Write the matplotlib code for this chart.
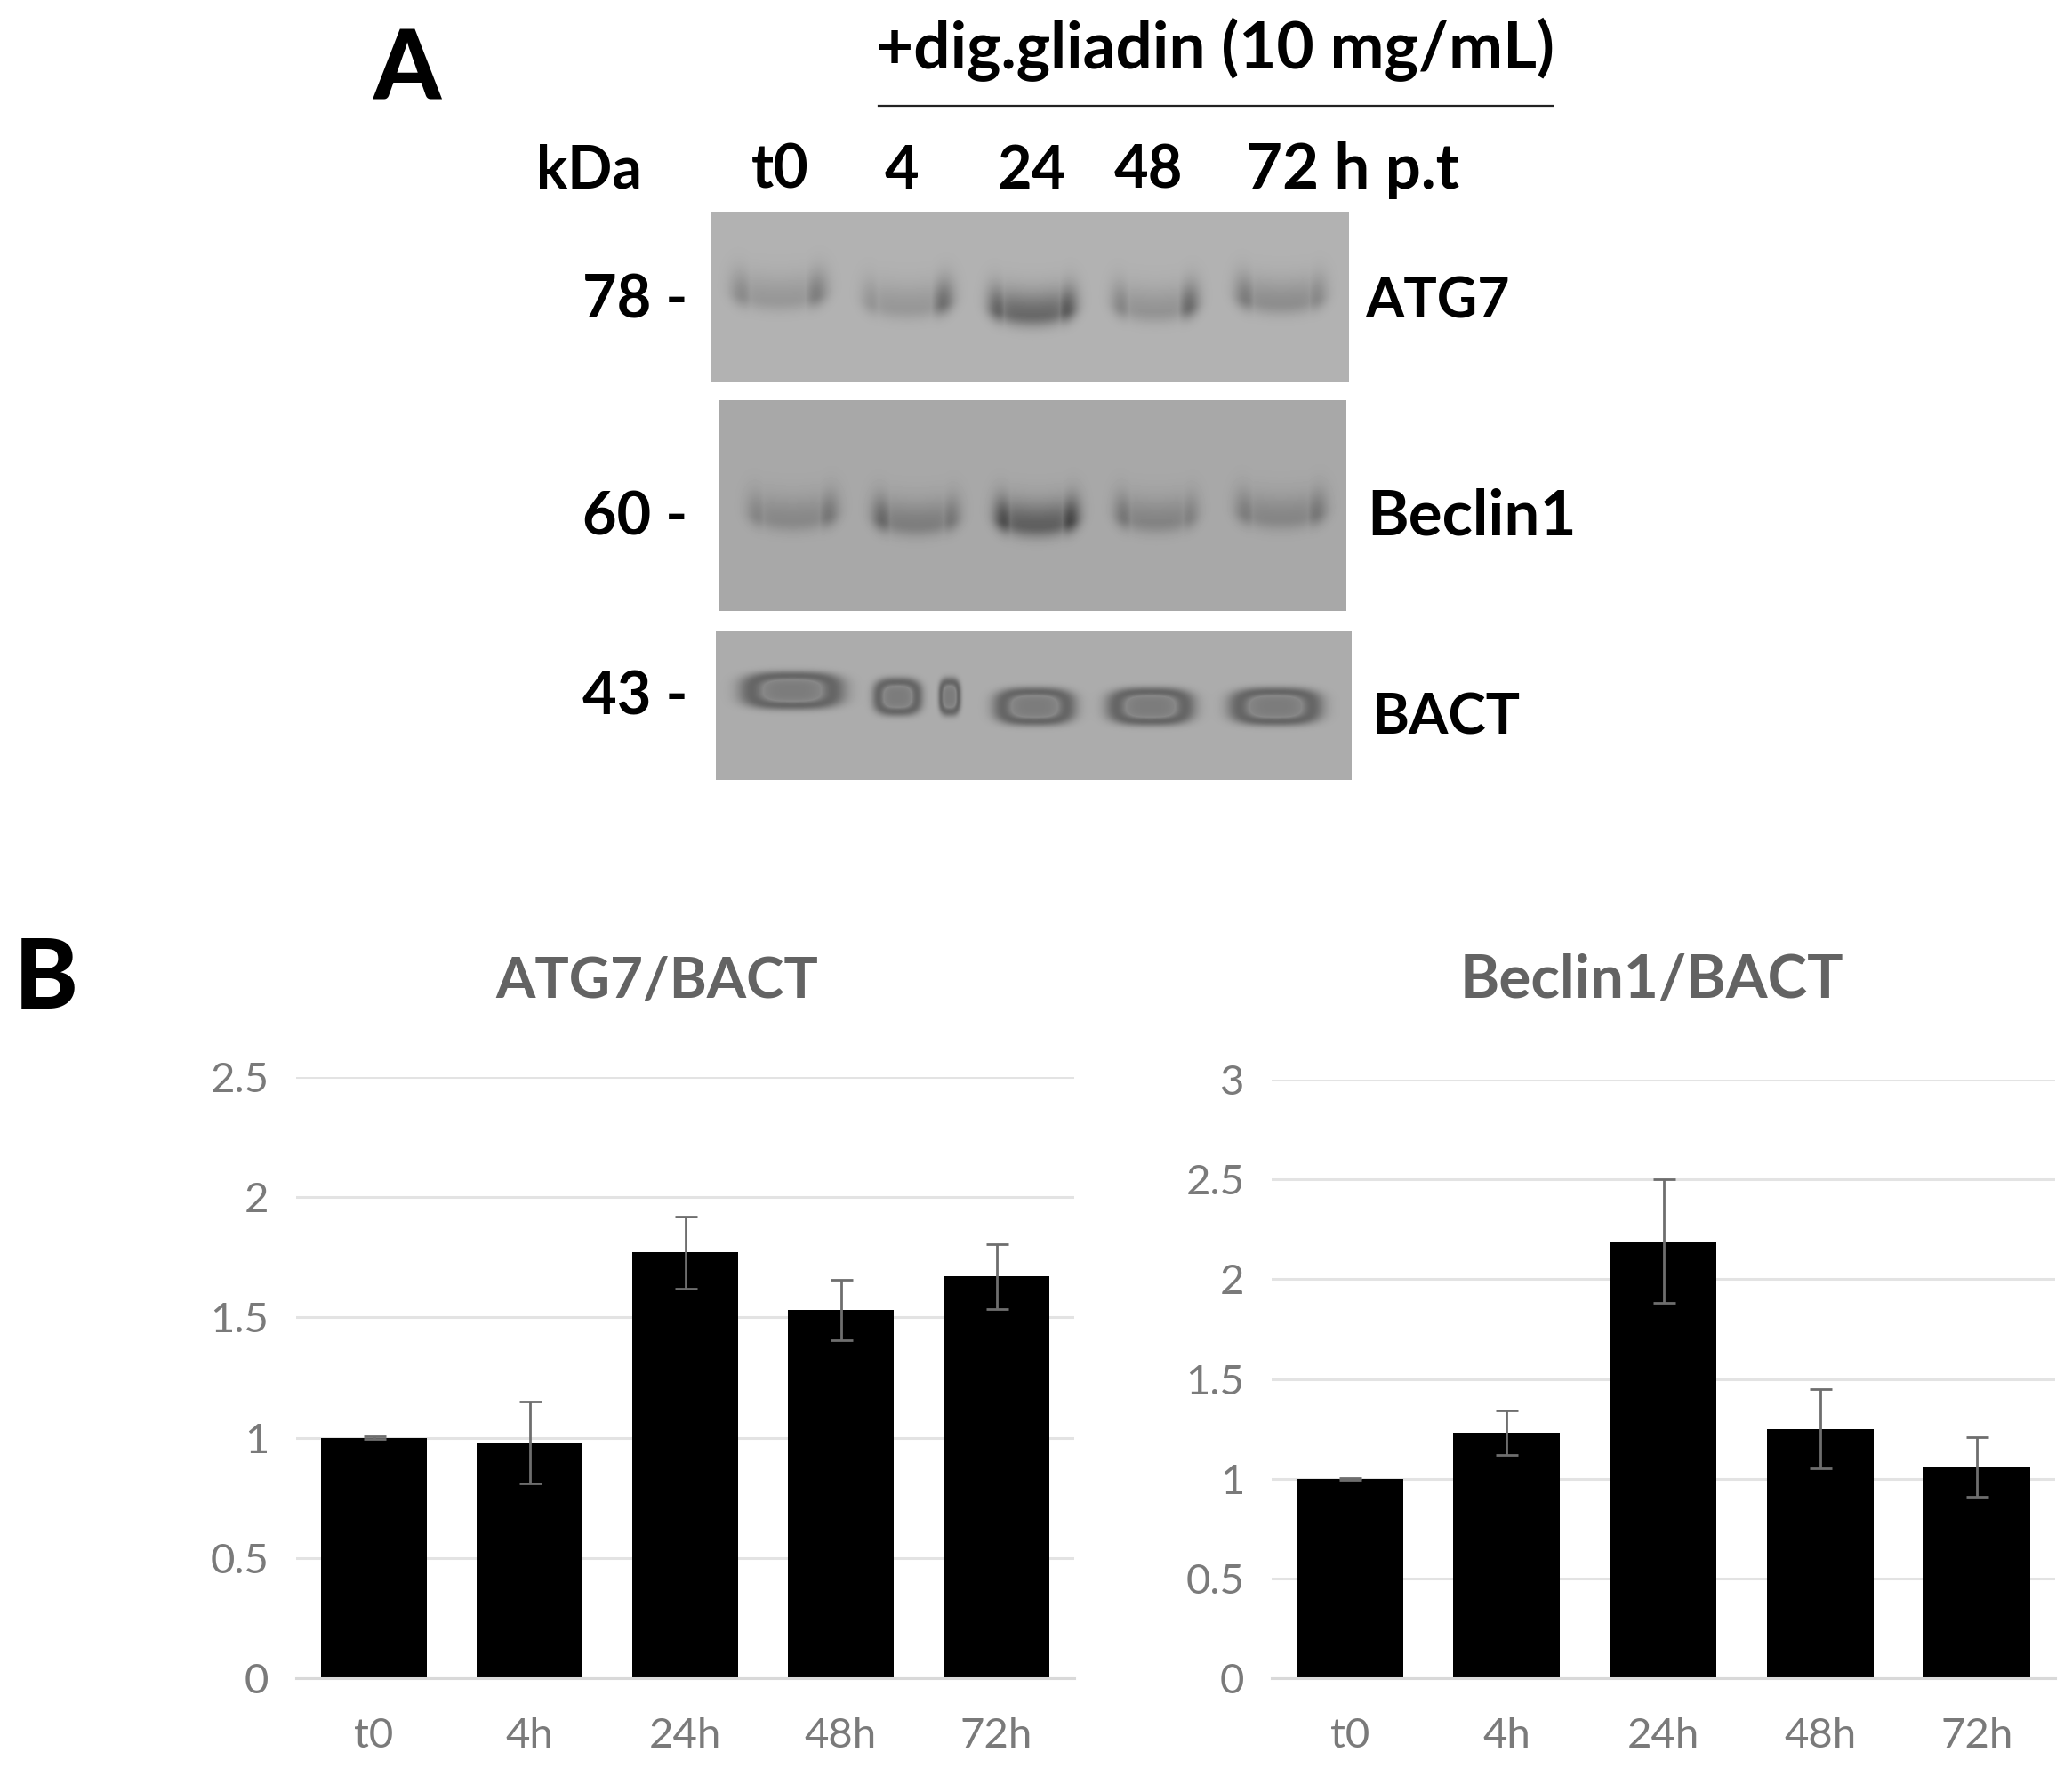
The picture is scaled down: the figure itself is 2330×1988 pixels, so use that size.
#! /usr/bin/env python

import numpy as np
import matplotlib
matplotlib.use("Agg")
import matplotlib.pyplot as plt

W, H = 2330, 1988

categories = ["t0", "4h", "24h", "48h", "72h"]
atg7_vals = [1.0, 0.98, 1.77, 1.53, 1.67]
atg7_err = [0.005, 0.17, 0.15, 0.125, 0.135]
beclin_vals = [1.0, 1.23, 2.19, 1.25, 1.06]
beclin_err = [0.005, 0.11, 0.31, 0.2, 0.15]
atg7_ticks = [0, 0.5, 1, 1.5, 2, 2.5]
beclin_ticks = [0, 0.5, 1, 1.5, 2, 2.5, 3]
tick_fmt = ["0", "0.5", "1", "1.5", "2", "2.5", "3"]

# blot bands, full size pixels: x0, x1, y, left / middle / right darkness
atg7_bands = [(822, 929, 333, 38, 26, 50), (969, 1071, 342, 28, 26, 65),
              (1111, 1210, 350, 75, 72, 85), (1250, 1347, 346, 42, 30, 68),
              (1389, 1491, 337, 52, 36, 40)]
beclin_bands = [(840, 942, 581, 34, 32, 48), (981, 1079, 586, 62, 42, 48),
                (1118, 1213, 587, 88, 72, 95), (1253, 1347, 583, 48, 36, 38),
                (1389, 1491, 579, 42, 34, 48)]
bact_bands = [(827, 954, 776), (979, 1039, 783), (1054, 1081, 783),
              (1113, 1213, 794), (1240, 1347, 794), (1377, 1491, 794)]


def smile_panel(x0, x1, y0, y1, base, bands):
    xx, yy = np.meshgrid(np.arange(x0, x1), np.arange(y0, y1))
    img = np.full(xx.shape, float(base))
    for bx0, bx1, by, dl, dm, dr in bands:
        xc = (bx0 + bx1) / 2
        w = (bx1 - bx0) / 2
        u = (xx - xc) / w
        curve = by - 9 * (u ** 2) + 4
        sigma = np.where(yy < curve, 27.0, 13.0)
        env = np.exp(-((yy - curve) / sigma) ** 2)
        left = dl * np.exp(-((u + 0.78) / 0.26) ** 2)
        right = dr * np.exp(-((u - 0.78) / 0.26) ** 2)
        mid = dm * np.exp(-(u / 0.8) ** 6)
        img -= env * np.maximum(np.maximum(left, right), mid)
    return img


def ring_panel(x0, x1, y0, y1, base, bands):
    xx, yy = np.meshgrid(np.arange(x0, x1), np.arange(y0, y1))
    img = np.full(xx.shape, float(base))
    for bx0, bx1, by in bands:
        a = (bx1 - bx0) / 2
        r = (np.abs((xx - (bx0 + bx1) / 2) / a) ** 3 + np.abs((yy - by) / 23.0) ** 3) ** (1 / 3)
        ring = 70 * np.exp(-((r - 0.72) / 0.26) ** 2)
        core = 48 * np.exp(-(r / 0.72) ** 4)
        img -= np.maximum(ring, core)
    return img


plt.rcParams['font.family'] = ['Lato', 'DejaVu Sans']

fig = plt.figure(figsize=(W / 100, H / 100), dpi=100)
over = fig.add_axes([0, 0, 1, 1])

panels = [
    (smile_panel(799, 1517, 238, 429, 178, atg7_bands), (799, 1517, 429, 238)),
    (smile_panel(808, 1514, 450, 687, 168, beclin_bands), (808, 1514, 687, 450)),
    (ring_panel(805, 1520, 709, 877, 172, bact_bands), (805, 1520, 877, 709)),
]
for img, ext in panels:
    over.imshow(img, cmap="gray", vmin=0, vmax=255, extent=ext, aspect="auto",
                interpolation="bilinear")
over.set_xlim(0, W)
over.set_ylim(H, 0)
over.axis("off")

over.plot([988, 1746], [119, 119], color="#222222", lw=1.6)


def label(x, y, s, size=48, weight="bold"):
    over.text(x, y, s, fontsize=size, fontweight=weight, va="baseline", color="black")


label(985, 77, "+dig.gliadin (10 mg/mL)", 52.5)
label(603, 212, "kDa", 47.5)
label(845, 212, "t0", 49)
label(995, 212, "4", 48)
label(1122, 212, "24", 48)
label(1253, 212, "48", 48)
label(1401, 212, "72 h p.t", 51)
label(655, 358, "78 -")
label(655, 602, "60 -")
label(655, 804, "43 -")
label(1535, 358, "ATG7", 45)
label(1537, 602, "Beclin1", 51)
label(1543, 826, "BACT", 46)
label(420, 112, "A", 78, "black")
label(16, 1134, "B", 78, "black")


def bar_chart(box, vals, err, ticks, title, title_x, title_size):
    x0, x1, y_top, y_bot = box
    ax = fig.add_axes([x0 / W, 1 - y_bot / H, (x1 - x0) / W, (y_bot - y_top) / H])
    pos = np.arange(len(vals))
    ax.bar(pos, vals, width=0.68, color="black", zorder=2)
    ax.errorbar(pos, vals, yerr=err, fmt="none", ecolor="#6e6e6e", elinewidth=2.0,
                capsize=9, capthick=2.0, zorder=3)
    ax.set_xlim(-0.5, len(vals) - 0.5)
    ax.set_ylim(0, ticks[-1])
    ax.set_yticks(ticks)
    ax.set_yticklabels(tick_fmt[:len(ticks)])
    ax.set_xticks(pos)
    ax.set_xticklabels(categories)
    ax.tick_params(length=0, labelcolor="#7a7a7a", labelsize=34)
    ax.tick_params(axis="y", pad=22)
    ax.tick_params(axis="x", pad=32)
    ax.grid(axis="y", color="#e3e3e3", lw=2.2, zorder=0)
    ax.set_axisbelow(True)
    for side in ("top", "left", "right"):
        ax.spines[side].set_visible(False)
    ax.spines["bottom"].set_color("#d9d9d9")
    ax.spines["bottom"].set_linewidth(2.2)
    ax.patch.set_alpha(0)
    over.text(title_x, 1122, title, fontsize=title_size, fontweight="bold", color="#636363",
              ha="center", va="baseline")


bar_chart((333, 1208, 1211, 1887), atg7_vals, atg7_err, atg7_ticks, "ATG7/BACT", 739, 46)
bar_chart((1430, 2311, 1214, 1887), beclin_vals, beclin_err, beclin_ticks, "Beclin1/BACT", 1857, 48.5)

plt.savefig("out.png", dpi=100)
